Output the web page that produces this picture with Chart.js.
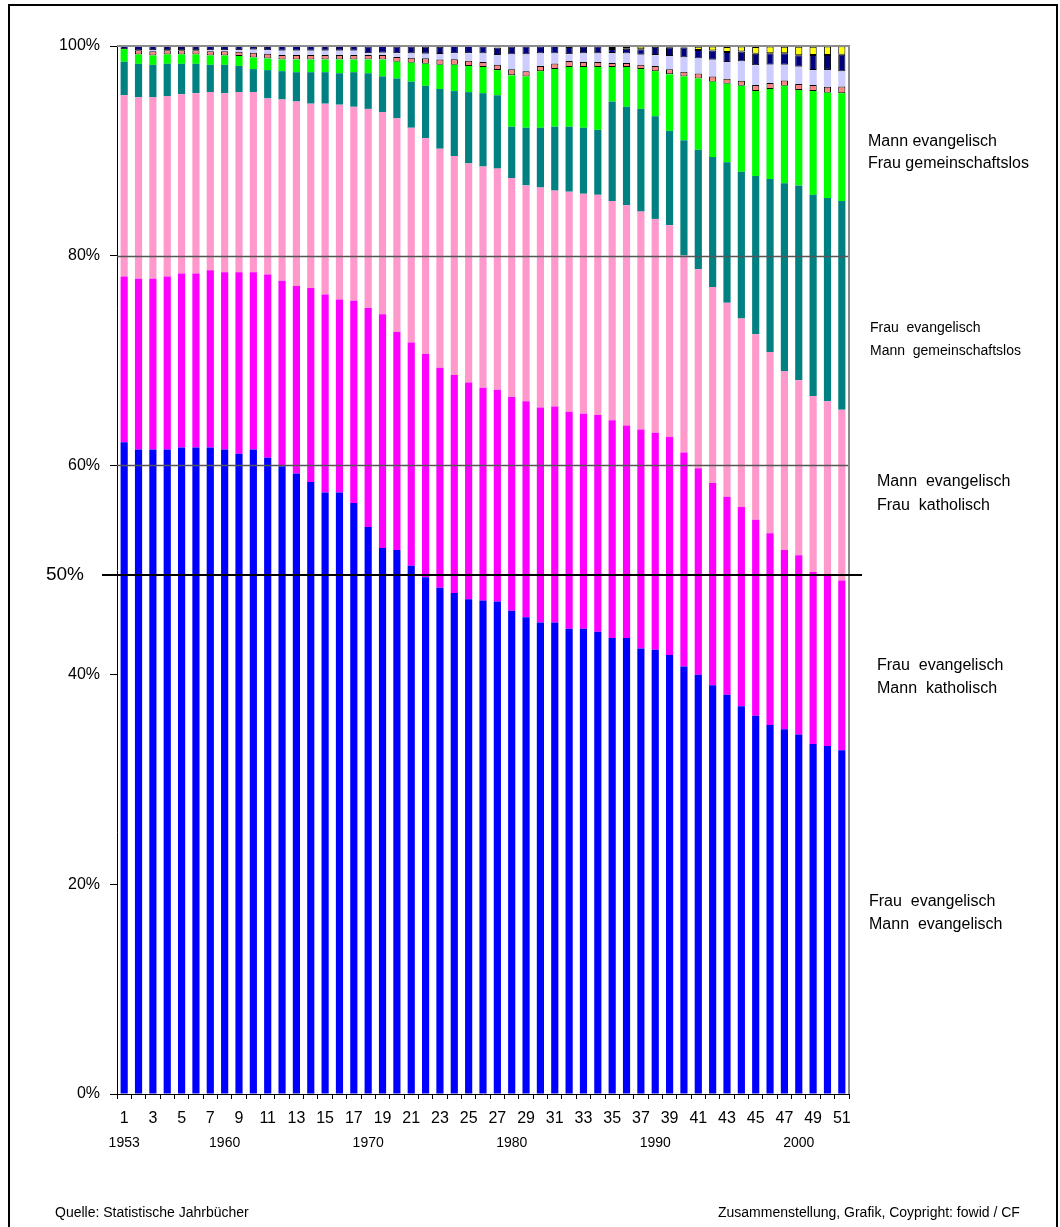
<!DOCTYPE html>
<html>
<head>
<meta charset="utf-8">
<script src="https://cdn.jsdelivr.net/npm/chart.js@4.4.1/dist/chart.umd.min.js"></script>
<style>
  body { margin: 0; background: #fff; }
  #frame { position: absolute; left: 8px; top: 4px; width: 1046px; height: 1300px; border: 2px solid #000; }
  #wrap { position: absolute; left: 0; top: 0; width: 1060px; height: 1227px; }
  .note { position: absolute; font-family: "Liberation Sans", Arial, sans-serif; color: #000; white-space: pre; }
</style>
</head>
<body>
<div id="frame"></div>
<div id="wrap"><canvas id="chart"></canvas></div>

<div class="note" style="left:868px;top:130px;font-size:16px;line-height:22px">Mann evangelisch
Frau gemeinschaftslos</div>
<div class="note" style="left:870px;top:316px;font-size:14px;line-height:23px">Frau  evangelisch
Mann  gemeinschaftslos</div>
<div class="note" style="left:877px;top:469px;font-size:16px;line-height:24px">Mann  evangelisch
Frau  katholisch</div>
<div class="note" style="left:877px;top:653px;font-size:16px;line-height:23px">Frau  evangelisch
Mann  katholisch</div>
<div class="note" style="left:869px;top:889px;font-size:16px;line-height:23px">Frau  evangelisch
Mann  evangelisch</div>
<div class="note" style="left:55px;top:1204px;font-size:14px">Quelle: Statistische Jahrbücher</div>
<div class="note" style="left:718px;top:1204px;font-size:14px">Zusammenstellung, Grafik, Coypright: fowid / CF</div>

<script>
// 51 Jahre, 1953 - 2003, Anteile in %
var cats = [];
for (var i = 1; i <= 51; i++) cats.push(String(i));

var yearLabels = ['1953', '1960', '1970', '1980', '1990', '2000'];
var yearBars = [1, 8, 18, 28, 38, 48];
var yTicks = [0, 20, 40, 60, 80, 100];

// Frau ev. / Mann ev.
var evEv = [62.2,61.5,61.5,61.5,61.7,61.7,61.7,61.5,61.1,61.5,60.7,59.9,59.2,58.4,57.4,57.4,56.4,54.1,52.1,51.9,
            50.4,49.3,48.3,47.8,47.2,47.1,47.0,46.1,45.5,45.0,45.0,44.4,44.4,44.1,43.5,43.5,42.5,42.4,41.9,40.8,
            40.0,39.0,38.1,37.0,36.1,35.2,34.8,34.3,33.4,33.2,32.8];
// Frau ev. / Mann kath.
var frauEvMannKath = [15.8,16.3,16.3,16.5,16.6,16.6,16.9,16.9,17.3,16.9,17.5,17.7,17.9,18.5,18.9,18.4,19.3,20.9,22.3,20.8,
            21.3,21.3,21.0,20.8,20.7,20.3,20.2,20.4,20.6,20.5,20.6,20.7,20.5,20.7,20.8,20.3,20.9,20.7,20.8,20.4,
            19.7,19.3,18.9,19.0,18.7,18.3,17.1,17.1,16.4,16.4,16.2];
// Mann ev. / Frau kath.
var mannEvFrauKath = [17.3,17.3,17.3,17.2,17.1,17.2,17.0,17.1,17.2,17.2,16.8,17.3,17.6,17.6,18.2,18.6,18.5,19.0,19.3,20.4,
            20.5,20.6,20.9,20.9,20.9,21.1,21.1,20.9,20.6,21.0,20.6,21.0,21.0,21.0,20.9,21.0,20.8,20.4,20.2,18.8,
            19.0,18.7,18.5,18.0,17.7,17.3,17.1,16.7,16.8,16.5,16.3];
// Frau ev. / Mann gemeinschaftslos
var frauEvMannGl = [3.2,3.2,3.1,3.1,2.9,2.8,2.6,2.7,2.5,2.2,2.7,2.7,2.8,3.0,3.0,3.0,3.3,3.4,3.4,3.8,
            4.4,5.0,5.7,6.2,6.8,7.0,7.0,4.9,5.5,5.7,6.1,6.2,6.3,6.2,9.5,9.4,9.8,9.8,9.0,11.0,
            11.4,12.4,13.4,14.0,15.1,16.5,17.9,18.6,19.2,19.4,19.9];
// Mann ev. / Frau gemeinschaftslos
var mannEvFrauGl = [1.2,0.9,0.9,0.9,0.9,0.9,0.9,0.9,0.95,1.1,1.1,1.1,1.2,1.2,1.2,1.3,1.2,1.3,1.6,1.6,
            1.8,2.1,2.3,2.5,2.5,2.5,2.4,4.9,4.9,5.4,5.5,5.7,5.8,6.0,3.3,3.8,3.8,4.3,5.4,6.1,
            6.8,7.2,7.5,8.2,8.1,8.6,9.3,9.1,9.9,10.05,10.3];
// kleine Gruppen
var rest1 = [0,0.4,0.4,0.4,0.4,0.4,0.4,0.4,0.4,0.45,0.45,0.45,0.45,0.45,0.45,0.45,0.45,0.45,0.45,0.45,
            0.48,0.54,0.5,0.54,0.5,0.48,0.5,0.57,0.48,0.5,0.54,0.57,0.48,0.48,0.38,0.38,0.41,0.48,0.48,0.45,
            0.48,0.48,0.48,0.48,0.57,0.57,0.5,0.57,0.57,0.57,0.64];
var rest2 = [0,0,0.1,0,0,0,0.1,0.1,0.15,0.3,0.35,0.4,0.4,0.4,0.4,0.4,0.4,0.16,0.2,0.35,
            0.4,0.41,0.54,0.57,0.7,0.8,0.95,1.43,1.6,1.18,0.95,0.64,0.8,0.8,0.95,0.9,0.95,1.05,1.27,1.35,
            1.43,1.6,1.6,1.85,1.9,1.75,1.5,1.65,1.43,1.6,1.43];
var rest3 = [0.3,0.4,0.4,0.4,0.4,0.4,0.4,0.4,0.4,0.4,0.4,0.45,0.45,0.45,0.45,0.45,0.45,0.64,0.65,0.65,
            0.7,0.7,0.7,0.7,0.7,0.7,0.7,0.76,0.8,0.7,0.7,0.7,0.7,0.7,0.38,0.45,0.54,0.8,0.83,0.95,
            0.8,0.9,0.95,0.95,1.1,1.1,1.1,1.1,1.43,1.43,1.6];
var rest4 = [0,0,0,0,0,0,0,0,0,0,0,0,0,0,0,0,0,0,0,0,
            0,0,0,0,0,0,0,0,0.05,0.05,0.05,0.05,0.05,0.05,0.2,0.2,0.25,0.1,0.05,0.1,
            0.32,0.38,0.48,0.48,0.64,0.64,0.64,0.8,0.8,0.8,0.8];

var FONT = '"Liberation Sans", Arial, sans-serif';

function boxed(v) { return v.raw > 0 ? 1 : 0; }

var overlay = {
  id: 'overlay',
  afterDatasetsDraw: function(chart) {
    var ctx = chart.ctx, a = chart.chartArea, y = chart.scales.y, x = chart.scales.x;
    ctx.save();
    // Linien 80 % und 60 %
    ctx.strokeStyle = '#555';
    ctx.lineWidth = 1.5;
    [80, 60].forEach(function(v) {
      var py = Math.round(y.getPixelForValue(v)) + 0.5;
      ctx.beginPath(); ctx.moveTo(a.left, py); ctx.lineTo(a.right, py); ctx.stroke();
    });
    // Rahmen oben / rechts
    ctx.strokeStyle = '#8c8c8c';
    ctx.lineWidth = 2;
    ctx.beginPath();
    ctx.moveTo(a.left, a.top); ctx.lineTo(a.right, a.top); ctx.lineTo(a.right, a.bottom);
    ctx.stroke();
    // 50 %-Linie
    var p50 = Math.round(y.getPixelForValue(49.5));
    ctx.strokeStyle = '#000';
    ctx.lineWidth = 2;
    ctx.beginPath(); ctx.moveTo(a.left - 15, p50); ctx.lineTo(a.right + 13, p50); ctx.stroke();
    ctx.fillStyle = '#000';
    ctx.font = '19px ' + FONT;
    ctx.textAlign = 'right';
    ctx.textBaseline = 'middle';
    ctx.fillText('50%', 84, p50);
    // Jahreszahlen
    ctx.font = '14px ' + FONT;
    ctx.textAlign = 'center';
    yearLabels.forEach(function(t, k) {
      ctx.fillText(t, x.getPixelForValue(yearBars[k] - 1), 1143);
    });
    ctx.restore();
  }
};

new Chart(document.getElementById('chart'), {
  type: 'bar',
  data: {
    labels: cats,
    datasets: [
      { data: evEv, backgroundColor: '#0000ff' },
      { data: frauEvMannKath, backgroundColor: '#ff00ff' },
      { data: mannEvFrauKath, backgroundColor: '#ff99cc' },
      { data: frauEvMannGl, backgroundColor: '#008080' },
      { data: mannEvFrauGl, backgroundColor: '#00ff00' },
      { data: rest1, backgroundColor: '#ff8080', borderColor: '#000', borderWidth: boxed, borderSkipped: false },
      { data: rest2, backgroundColor: '#ccccff' },
      { data: rest3, backgroundColor: '#000080', borderColor: '#000', borderWidth: boxed, borderSkipped: false },
      { data: rest4, backgroundColor: '#ffff00', borderColor: '#000', borderWidth: boxed, borderSkipped: false }
    ]
  },
  options: {
    responsive: true,
    maintainAspectRatio: false,
    animation: false,
    events: [],
    barPercentage: 0.5,
    categoryPercentage: 1.0,
    layout: { padding: { left: 0, right: 211, top: 46, bottom: 0 } },
    plugins: { legend: { display: false }, tooltip: { enabled: false } },
    scales: {
      x: {
        stacked: true,
        grid: { drawOnChartArea: false, drawTicks: true, tickLength: 5, color: '#000' },
        border: { color: '#000', width: 1 },
        ticks: {
          autoSkip: false, maxRotation: 0, color: '#000', padding: 10,
          font: { family: FONT, size: 16 },
          callback: function(v, i) { return i % 2 === 0 ? String(i + 1) : ''; }
        },
        afterFit: function(s) { s.height = 133; }
      },
      y: {
        stacked: true,
        min: 0, max: 100,
        afterBuildTicks: function(s) { s.ticks = yTicks.map(function(v) { return { value: v }; }); },
        grid: { drawOnChartArea: false, drawTicks: true, tickLength: 7, color: '#000' },
        border: { color: '#000', width: 1 },
        ticks: {
          color: '#000', padding: 10,
          font: { family: FONT, size: 16 },
          callback: function(v) { return v + '%'; }
        },
        afterFit: function(s) { s.width = 117; }
      }
    }
  },
  plugins: [overlay]
});
</script>
</body>
</html>
